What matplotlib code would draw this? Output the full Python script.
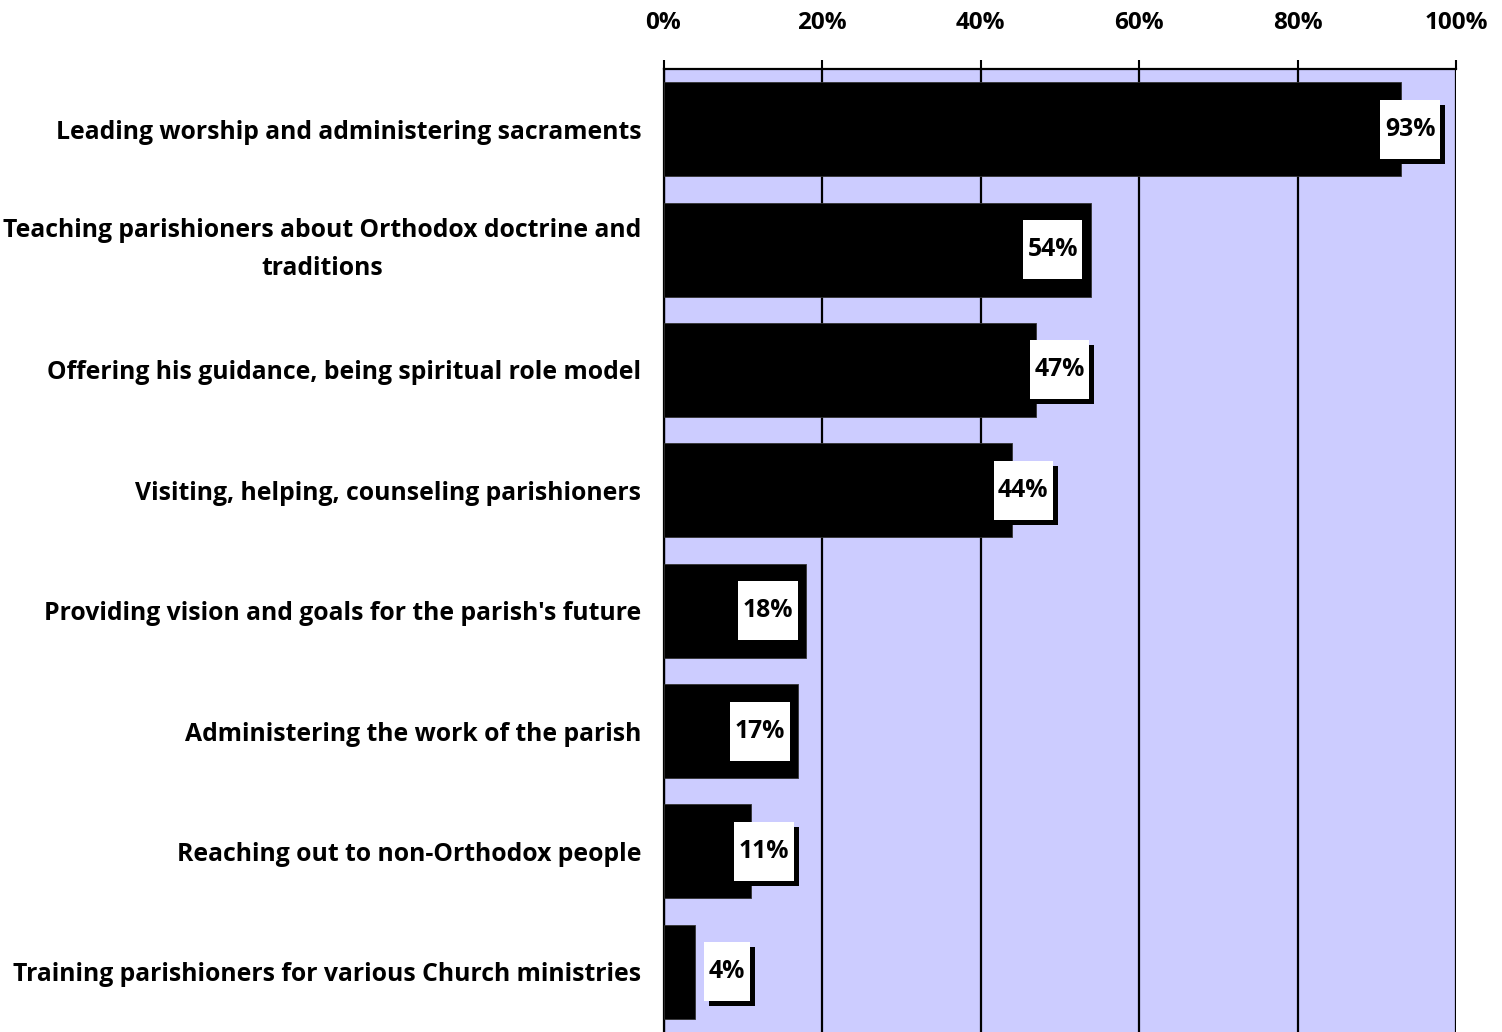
import matplotlib
matplotlib.use("Agg")
import matplotlib.pyplot as plt
from matplotlib.patches import Rectangle
from matplotlib.transforms import ScaledTranslation

# Priest's most important roles (% of respondents)
categories = [
    "Leading worship and administering sacraments",
    "Teaching parishioners about Orthodox doctrine and\ntraditions",
    "Offering his guidance, being spiritual role model",
    "Visiting, helping, counseling parishioners",
    "Providing vision and goals for the parish's future",
    "Administering the work of the parish",
    "Reaching out to non-Orthodox people",
    "Training parishioners for various Church ministries",
]
values = [93, 54, 47, 44, 18, 17, 11, 4]
value_labels = ["93%", "54%", "47%", "44%", "18%", "17%", "11%", "4%"]
tick_values = [0, 20, 40, 60, 80, 100]
tick_labels = ["0%", "20%", "40%", "60%", "80%", "100%"]
# horizontal placement of the value call-outs (axis units)
label_x = [94.2, 49.1, 50.0, 45.4, 13.2, 12.2, 12.7, 8.0]

FONT = "Open Sans"
W, H, DPI = 1502, 1032, 100

fig = plt.figure(figsize=(W / DPI, H / DPI), dpi=DPI)
fig.patch.set_facecolor("white")
ax = fig.add_axes([663.5 / W, 0.0, (1456 - 663.5) / W, (H - 69) / H])
ax.set_facecolor("#CCCCFF")

ypos = list(range(len(categories)))
ax.barh(ypos, values, height=0.78, color="black", edgecolor="#333333",
        linewidth=0.6, zorder=3)

ax.set_xlim(0, 100)
ax.set_ylim(len(categories) - 0.5, -0.5)

ax.xaxis.tick_top()
ax.set_xticks(tick_values)
ax.set_xticklabels(tick_labels, fontfamily=FONT, fontweight="bold",
                   fontsize=17.5)
ax.tick_params(axis="x", length=6.5, width=1.5, pad=18, colors="black")
ax.grid(axis="x", color="black", linewidth=1.6, zorder=1)
ax.set_axisbelow(True)

ax.set_yticks(ypos)
ax.set_yticklabels(categories, fontfamily=FONT, fontweight="bold",
                   fontsize=17.8, linespacing=1.72)
for lab in ax.get_yticklabels():
    lab.set_multialignment("center")
    if "\n" in lab.get_text():
        lab.set_verticalalignment("center")
ax.tick_params(axis="y", length=0, pad=16)

for side in ("bottom", "right"):
    ax.spines[side].set_visible(False)
for side in ("top", "left"):
    ax.spines[side].set_linewidth(1.6)
    ax.spines[side].set_color("black")

fig.canvas.draw()
renderer = fig.canvas.get_renderer()

box_h = 59 / DPI
off = 5 / DPI
for y, x, txt in zip(ypos, label_x, value_labels):
    t = ax.text(x, y, txt, ha="center", va="center", fontfamily=FONT,
                fontweight="bold", fontsize=17.8, color="black", zorder=7)
    tw = t.get_window_extent(renderer).width / DPI
    box_w = tw + 9 / DPI
    tr = fig.dpi_scale_trans + ScaledTranslation(x, y, ax.transData)
    ax.add_patch(Rectangle((-box_w / 2 + off, -box_h / 2 - off), box_w, box_h,
                           transform=tr, facecolor="black", edgecolor="none",
                           zorder=5, clip_on=False))
    ax.add_patch(Rectangle((-box_w / 2, -box_h / 2), box_w, box_h,
                           transform=tr, facecolor="white", edgecolor="none",
                           zorder=6, clip_on=False))

fig.savefig("out.png", dpi=DPI)
